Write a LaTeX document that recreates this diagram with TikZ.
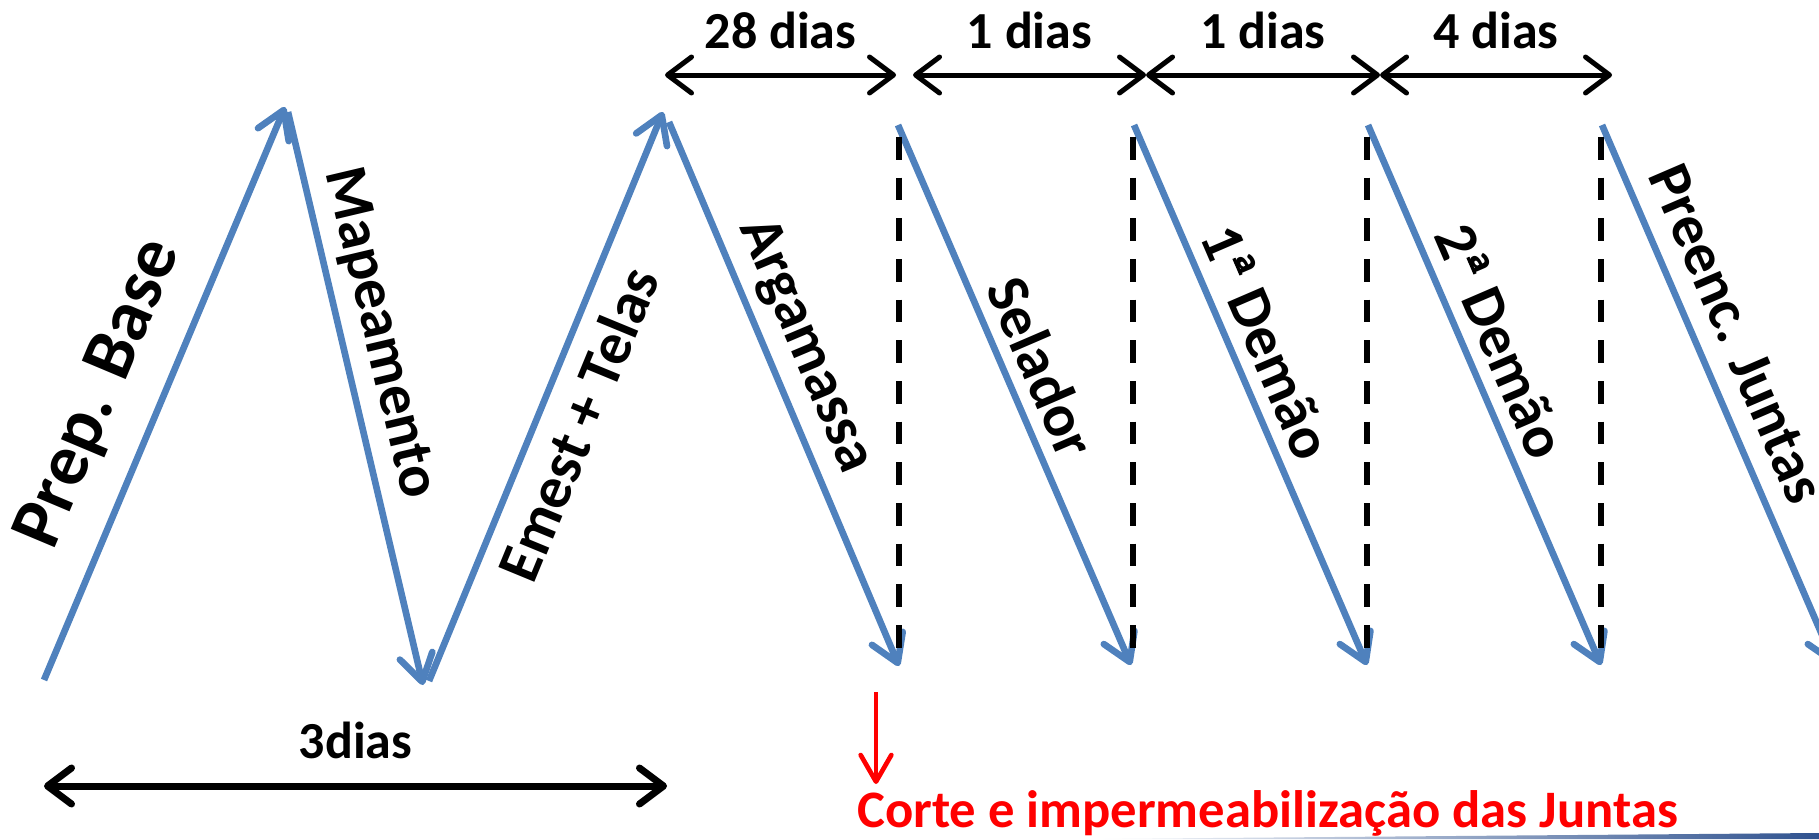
\documentclass[tikz,border=0pt]{standalone}
\usepackage{fontspec}
\setmainfont{Carlito}
\usetikzlibrary{arrows.meta}

\definecolor{stepblue}{RGB}{79,129,189}
\definecolor{slideblue}{RGB}{47,82,143}

% ordinal with the underline under the small a
\newcommand{\ordfem}{\ooalign{ª\cr\hidewidth\rule[0.36em]{0.3em}{0.055em}\hidewidth}}

\tikzset{
	flow/.style={line width=5pt,stepblue,-{Straight Barb[length=20pt,width=25pt,round]}},
	span/.style={line width=3.75pt,{Straight Barb[length=18pt,width=27pt,round]}-{Straight Barb[length=18pt,width=27pt,round]}},
	cutline/.style={line width=4pt,dash pattern=on 17pt off 13.5pt},
	steplbl/.style={font=\bfseries\fontsize{45}{54}\selectfont,inner sep=0pt},
	dayslbl/.style={font=\bfseries\fontsize{39}{46}\selectfont,inner sep=0pt,above=18pt}
}

\begin{document}
\begin{tikzpicture}[x=0.75pt,y=-0.75pt]
	\useasboundingbox (0,0) rectangle (1819,839);
	\clip (0,0) rectangle (1819,839);

	% zigzag of the first steps
	\coordinate (z0) at (44,680);
	\coordinate (z1) at (285,107);
	\coordinate (z1b) at (288,112);
	\coordinate (z2) at (423,685);
	\coordinate (z2b) at (429,681);
	\coordinate (z3) at (663,112);
	\coordinate (z3b) at (669,122);
	\coordinate (z4) at (899,666);
	\draw[flow] (z0) -- (z1);
	\draw[flow] (z1b) -- (z2);
	\draw[flow] (z2b) -- (z3);
	\draw[flow] (z3b) -- (z4);

	% the later steps with their cut lines
	\foreach \i/\x in {1/898,2/1134,3/1368,4/1602}{
		\coordinate (top\i) at (\x,125);
		\coordinate (bot\i) at (\x+233,665);
		\draw[flow] (top\i) -- (bot\i);
	}
	\foreach \i/\x in {1/899,2/1133,3/1367,4/1601}{
		\coordinate (cuttop\i) at (\x,137);
		\coordinate (cutbot\i) at (\x,665);
		\draw[cutline] (cuttop\i) -- (cutbot\i);
	}

	\node[steplbl,font=\bfseries\fontsize{55}{66}\selectfont,rotate=67.2] (prep) at (100,394) {Prep. Base};
	\node[steplbl,rotate=-76.7] (mapa) at (379,333) {Mapeamento};
	\node[steplbl,rotate=67.6] (emest) at (578,424) {Emest + Telas};
	\node[steplbl,rotate=-67.1] (arga) at (805,346) {Argamassa};
	\node[steplbl,rotate=-66.7] (sela) at (1042,367) {Selador};
	\node[steplbl,rotate=-66.7] (dem1) at (1267,342) {1\ordfem{} Demão};
	\node[steplbl,rotate=-66.7] (dem2) at (1501,341) {2\ordfem{} Demão};
	\node[steplbl,rotate=-66.7] (preenc) at (1737,334) {Preenc. Juntas};

	% waiting times
	\coordinate (w0) at (665,75);
	\coordinate (w1) at (896,75);
	\coordinate (w1b) at (913,75);
	\coordinate (w2) at (1146,75);
	\coordinate (w3) at (1380,75);
	\coordinate (w4) at (1612,75);
	\draw[span] (w0) -- node[dayslbl] (d28) {28 dias} (w1);
	\draw[span] (w1b) -- node[dayslbl] (d1a) {1 dias} (w2);
	\draw[span] (w2) -- node[dayslbl] (d1b) {1 dias} (w3);
	\draw[span] (w3) -- node[dayslbl] (d4) {4 dias} (w4);

	\coordinate (s0) at (44,786);
	\coordinate (s1) at (667,786);
	\draw[span,line width=5.25pt] (s0) -- node[dayslbl] (d3) {3dias} (s1);

	% cutting of the joints
	\coordinate (r0) at (876,692);
	\coordinate (r1) at (876,784);
	\draw[red,line width=3.5pt,-{Straight Barb[length=20pt,width=23pt,round]}] (r0) -- (r1);
	\node[red,font=\bfseries\fontsize{39.5}{46}\selectfont,inner sep=0pt,anchor=base west] (corte) at (857,827) {Corte e impermeabilização das Juntas};

	\shade[left color=white,right color=slideblue] (1090,839) -- (1819,833) -- (1819,839) -- cycle;
\end{tikzpicture}
\end{document}
